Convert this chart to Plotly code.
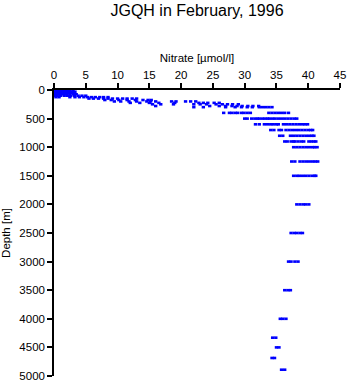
import plotly.graph_objects as go

# Depth levels (m) and nitrate values (umol/l) observed at each level
depth_levels = [0, 10, 20, 30, 50, 75, 100, 125, 150, 175, 200, 225, 250, 280, 300,
                400, 500, 600, 700, 800, 900, 1000, 1250, 1500, 2000, 2500, 3000,
                3500, 4000, 4330, 4500, 4685, 4890]

no3_0 = [0.0, 0.2, 0.4, 0.6, 0.9, 1.2, 1.5, 2.0, 2.3]
no3_10 = [0.0, 0.3, 0.5, 0.8, 1.1, 1.4, 2.1, 2.5]
no3_20 = [0.0, 0.2, 0.4, 0.7, 1.0, 1.3, 1.6, 2.2, 3.0]
no3_30 = [0.1, 0.3, 0.6, 0.9, 1.2, 1.9, 2.4, 2.8, 3.3]
no3_50 = [0.0, 0.2, 0.5, 0.8, 1.0, 1.4, 1.8, 2.2, 2.6, 3.0]
no3_75 = [0.1, 0.4, 0.7, 1.0, 1.5, 2.0, 2.5, 3.1, 3.5]
no3_100 = [0.2, 0.5, 1.0, 1.6, 2.1, 2.6, 3.2, 3.8, 4.4, 5.0]
no3_125 = [0.3, 0.8, 2.5, 3.3, 4.0, 4.7, 5.3, 5.9, 6.5, 7.2, 7.8, 8.5]
no3_150 = [5.5, 6.2, 7.0, 7.8, 8.5, 9.2, 10.0, 10.8, 11.5, 12.3, 13.0]
no3_175 = [8.0, 9.0, 10.2, 11.5, 12.8, 14.0, 14.8, 15.3]
no3_200 = [9.5, 10.5, 11.8, 13.0, 14.6, 15.2, 16.0, 18.5, 19.2, 20.7, 21.5, 22.3]
no3_225 = [12.0, 13.5, 15.0, 16.5, 19.0, 22.8, 23.5, 24.2, 25.2, 26.0]
no3_250 = [15.5, 16.8, 18.8, 22.0, 23.0, 24.0, 25.5, 26.5, 27.3, 28.1, 29.0]
no3_280 = [16.0, 24.5, 26.0, 27.0, 28.0, 28.8, 29.6, 30.5, 31.3, 32.2]
no3_300 = [22.0, 23.5, 27.0, 28.5, 29.5, 30.4, 31.2, 32.3, 32.8, 33.3, 33.8, 34.3]
no3_400 = [26.7, 27.6, 28.0, 28.5, 28.9, 29.5, 29.9, 30.4, 30.9, 33.8, 34.3, 34.8,
           35.3, 35.8, 36.3, 36.9]
no3_500 = [30.0, 30.4, 31.1, 31.6, 32.0, 32.3, 32.8, 33.2, 33.6, 33.9, 34.4, 34.8,
           35.3, 35.8, 36.3, 36.8, 37.3, 37.8, 38.2]
no3_600 = [31.7, 32.3, 33.1, 33.6, 34.1, 34.5, 35.0, 35.3, 36.1, 36.6, 37.1, 37.6,
           38.1, 38.6, 39.1, 39.5, 39.9]
no3_700 = [34.1, 34.6, 35.4, 35.8, 36.5, 37.0, 37.5, 38.0, 38.5, 39.0, 39.5, 40.0,
           40.4, 40.7]
no3_800 = [35.5, 36.0, 37.2, 37.7, 38.2, 38.7, 39.2, 39.7, 40.2, 40.6, 40.9]
no3_900 = [36.3, 36.7, 37.3, 37.7, 37.9, 38.4, 38.9, 39.3, 40.1, 40.5, 40.9, 41.2]
no3_1000 = [37.7, 38.2, 38.7, 39.2, 39.7, 40.2, 40.7, 41.0, 41.4]
no3_1250 = [37.4, 37.9, 38.7, 39.2, 39.7, 40.2, 40.7, 41.1, 41.5]
no3_1500 = [37.7, 38.2, 38.6, 39.1, 39.6, 40.1, 40.6, 41.0, 41.2]
no3_2000 = [38.2, 38.7, 39.2, 39.6, 40.1]
no3_2500 = [37.3, 37.8, 38.2, 38.7, 39.1]
no3_3000 = [36.9, 37.3, 37.9, 38.4]
no3_3500 = [36.3, 36.8, 37.2]
no3_4000 = [35.6, 36.0, 36.5]
no3_4330 = [34.4, 34.9]
no3_4500 = [35.0, 35.4]
no3_4685 = [34.3, 34.7]
no3_4890 = [35.8, 36.3]

nitrate_by_level = [no3_0, no3_10, no3_20, no3_30, no3_50, no3_75, no3_100, no3_125,
                    no3_150, no3_175, no3_200, no3_225, no3_250, no3_280, no3_300,
                    no3_400, no3_500, no3_600, no3_700, no3_800, no3_900, no3_1000,
                    no3_1250, no3_1500, no3_2000, no3_2500, no3_3000, no3_3500,
                    no3_4000, no3_4330, no3_4500, no3_4685, no3_4890]

x_ticks = [0, 5, 10, 15, 20, 25, 30, 35, 40, 45]
y_ticks = [0, 500, 1000, 1500, 2000, 2500, 3000, 3500, 4000, 4500, 5000]

xs, ys = [], []
for d, vals in zip(depth_levels, nitrate_by_level):
    for v in vals:
        xs.append(v)
        ys.append(d)

FONT = "Liberation Sans, Arial, Helvetica, sans-serif"

fig = go.Figure()
fig.add_trace(go.Scatter(
    x=xs, y=ys, mode="markers", cliponaxis=False,
    marker=dict(symbol="line-ew", size=2.4, color="#0000ff",
                line=dict(color="#0000ff", width=2.6)),
    hoverinfo="skip", showlegend=False,
))

fig.update_layout(
    width=348, height=384,
    margin=dict(l=54, r=8, t=90, b=8, autoexpand=False),
    paper_bgcolor="white", plot_bgcolor="white",
    font=dict(family=FONT, size=11.5, color="black"),
    title=dict(text="JGQH in February, 1996", x=197 / 348, xanchor="center",
               y=1 - 16 / 384, yanchor="bottom", yref="container",
               font=dict(family=FONT, size=16, color="black")),
    xaxis=dict(side="top", range=[0, 45], tickvals=x_ticks, automargin=False,
               ticks="outside", ticklen=5, tickwidth=1.5, tickcolor="black",
               showline=True, linecolor="black", linewidth=1.5,
               showgrid=False, zeroline=False,
               title=dict(text="Nitrate [µmol/l]", standoff=4,
                          font=dict(family=FONT, size=11.5))),
    yaxis=dict(range=[5000, 0], tickvals=y_ticks, automargin=False,
               ticks="outside", ticklen=5, tickwidth=1.5, tickcolor="black",
               showline=True, linecolor="black", linewidth=1.5,
               showgrid=False, zeroline=False,
               title=dict(text="Depth [m]", standoff=6,
                          font=dict(family=FONT, size=11.5))),
)

fig.write_html("out.html")
